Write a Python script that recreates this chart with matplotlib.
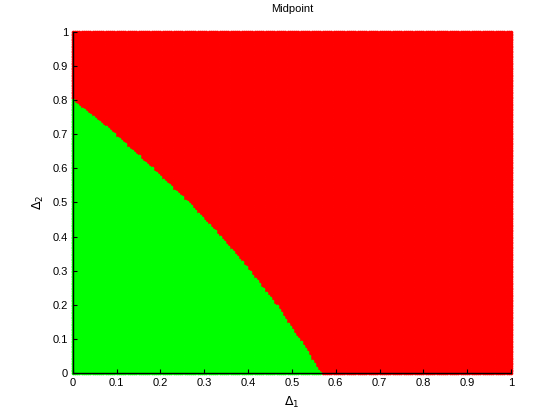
import numpy as np
import matplotlib
matplotlib.use("Agg")
import matplotlib.pyplot as plt

# Boundary between green and red regions
boundary_y = [0.0, 0.1, 0.2, 0.3, 0.4, 0.5, 0.6, 0.7, 0.8]
boundary_x = [0.565, 0.515, 0.463, 0.402, 0.336, 0.263, 0.180, 0.095, 0.0]

delta1_vals = np.round(np.arange(0, 201) / 200, 3)
delta2_vals = np.round(np.arange(0, 201) / 200, 3)

xticks = [0, 0.1, 0.2, 0.3, 0.4, 0.5, 0.6, 0.7, 0.8, 0.9, 1]
yticks = [0, 0.1, 0.2, 0.3, 0.4, 0.5, 0.6, 0.7, 0.8, 0.9, 1]
tick_labels = ['0', '0.1', '0.2', '0.3', '0.4', '0.5', '0.6', '0.7', '0.8', '0.9', '1']

X, Y = np.meshgrid(delta1_vals, delta2_vals)
xb = np.interp(Y, boundary_y, boundary_x, right=-1.0)
green = (X <= xb) & (Y <= 0.80)

plt.rcParams['font.family'] = ['Liberation Sans', 'DejaVu Sans']
fig = plt.figure(figsize=(5.6, 4.2), dpi=100)
ax = fig.add_axes([0.130, 0.112, 0.7825, 0.812])

ax.scatter(X[~green], Y[~green], s=7, c='#ff0000', marker='o', linewidths=0, clip_on=False, zorder=1)
ax.scatter(X[green], Y[green], s=7, c='#00ff00', marker='o', linewidths=0, clip_on=False, zorder=1)

ax.set_xlim(0, 1)
ax.set_ylim(0, 1)
ax.set_xticks(xticks)
ax.set_xticklabels(tick_labels)
ax.set_yticks(yticks)
ax.set_yticklabels(tick_labels)
ax.tick_params(direction='in', labelsize=8, length=3, top=False, right=False)
for s in ['top', 'right']:
    ax.spines[s].set_visible(False)
for s in ['left', 'bottom']:
    ax.spines[s].set_zorder(5)
    ax.spines[s].set_linewidth(1.0)

ax.set_title('Midpoint', fontsize=8, pad=14)
ax.set_xlabel(r'$\Delta_1$', fontsize=9, labelpad=5)
ax.set_ylabel(r'$\Delta_2$', fontsize=9, labelpad=5)

fig.savefig('out.png', dpi=100)
